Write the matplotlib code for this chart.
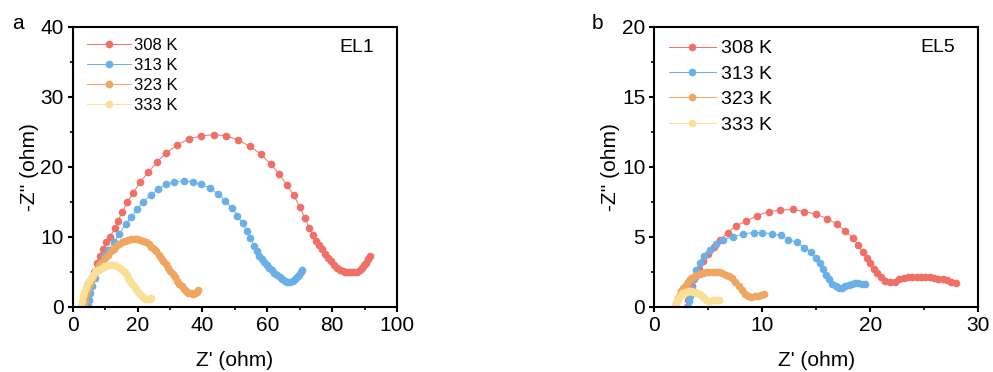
import matplotlib
matplotlib.use("Agg")
import matplotlib.pyplot as plt
from matplotlib.ticker import MultipleLocator

plt.rcParams['font.family'] = ['Liberation Sans', 'DejaVu Sans']

labels = ['308 K', '313 K', '323 K', '333 K']
colors = ['#F07068', '#6AB0E8', '#EEA660', '#FAE096']

# EL1 (panel a)
el1_308_x = [4.0, 4.4, 5.0, 5.7, 6.5, 7.4, 8.4, 9.4, 10.4, 11.5, 13.0, 14.0, 15.3, 16.8, 18.7,
             20.8, 23.3, 26.0, 28.9, 32.3, 35.9, 39.7, 43.5, 47.3, 51.1, 54.7, 58.0, 61.0, 63.6,
             66.0, 68.2, 70.0, 71.5, 72.9, 74.1, 75.1, 76.0, 76.9, 77.8, 78.7, 79.6, 80.5, 81.4,
             82.3, 83.2, 84.1, 85.0, 85.9, 86.8, 87.7, 88.5, 89.2, 89.9, 90.5, 91.1, 91.6]
el1_308_y = [0.2, 1.4, 2.6, 3.8, 5.0, 6.2, 7.3, 8.3, 9.2, 10.0, 11.2, 12.3, 13.5, 14.9, 16.3,
             17.8, 19.2, 20.7, 22.0, 23.1, 24.0, 24.4, 24.6, 24.4, 23.8, 22.9, 21.8, 20.4, 19.0,
             17.4, 15.9, 14.3, 12.7, 11.3, 10.2, 9.4, 8.8, 8.2, 7.6, 7.0, 6.5, 6.0, 5.6,
             5.3, 5.1, 5.0, 4.9, 4.9, 4.9, 5.0, 5.2, 5.5, 5.9, 6.3, 6.8, 7.2]
el1_313_x = [4.6, 4.9, 5.4, 6.0, 6.8, 7.7, 8.7, 9.8, 11.0, 12.6, 14.4, 16.3, 18.0, 19.8, 21.7,
             24.0, 26.4, 28.7, 31.3, 34.3, 37.0, 39.7, 42.4, 44.8, 47.1, 49.1, 50.8, 52.4, 53.8,
             54.8, 55.9, 56.9, 57.6, 58.3, 59.0, 59.8, 60.6, 61.4, 62.2, 63.0, 63.8, 64.6, 65.4,
             66.2, 67.0, 67.8, 68.5, 69.2, 69.8, 70.3, 70.6]
el1_313_y = [0.1, 1.0, 2.0, 3.0, 4.1, 5.2, 6.2, 7.2, 8.1, 9.2, 10.4, 11.8, 12.8, 13.9, 15.0,
             15.9, 16.8, 17.5, 17.8, 18.0, 17.8, 17.5, 16.9, 16.1, 15.1, 14.1, 13.0, 11.9, 10.8,
             9.8, 8.7, 7.9, 7.3, 6.8, 6.4, 6.0, 5.6, 5.2, 4.8, 4.5, 4.2, 3.9, 3.7,
             3.6, 3.6, 3.7, 3.9, 4.2, 4.6, 5.0, 5.3]
el1_323_x = [3.4, 3.7, 4.1, 4.6, 5.2, 5.9, 6.6, 7.4, 8.2, 9.0, 9.9, 10.8, 11.7, 12.6, 13.5,
             14.4, 15.3, 16.2, 17.1, 18.0, 18.9, 19.8, 20.7, 21.6, 22.5, 23.4, 24.2, 25.0, 25.8,
             26.6, 27.3, 28.0, 28.7, 29.4, 30.1, 30.8, 31.5, 32.2, 32.9, 33.6, 34.3, 35.0, 35.7,
             36.4, 37.1, 37.7, 38.2, 38.6]
el1_323_y = [0.2, 1.0, 1.8, 2.6, 3.3, 4.0, 4.6, 5.3, 5.9, 6.4, 6.9, 7.4, 7.9, 8.3, 8.7,
             9.0, 9.2, 9.4, 9.6, 9.7, 9.7, 9.7, 9.6, 9.4, 9.2, 8.9, 8.6, 8.2, 7.9,
             7.4, 7.0, 6.6, 6.1, 5.6, 5.1, 4.7, 4.2, 3.7, 3.3, 2.9, 2.5, 2.2, 2.0,
             1.9, 1.8, 1.9, 2.1, 2.4]
el1_333_x = [2.6, 2.9, 3.2, 3.6, 4.0, 4.5, 5.0, 5.6, 6.2, 6.9, 7.6, 8.3, 9.0, 9.7, 10.4,
             11.1, 11.8, 12.5, 13.2, 13.9, 14.6, 15.3, 16.0, 16.6, 17.2, 17.8, 18.4, 19.0, 19.6,
             20.2, 20.8, 21.4, 22.0, 22.6, 23.2, 23.8, 24.3]
el1_333_y = [0.1, 0.8, 1.5, 2.1, 2.7, 3.2, 3.7, 4.1, 4.5, 4.9, 5.2, 5.4, 5.6, 5.75, 5.85,
             5.9, 5.95, 5.95, 5.9, 5.7, 5.5, 5.3, 4.9, 4.5, 4.1, 3.7, 3.3, 2.9, 2.5,
             2.1, 1.8, 1.5, 1.3, 1.15, 1.1, 1.1, 1.2]

# EL5 (panel b)
el5_308_x = [3.0, 3.1, 3.3, 3.5, 3.8, 4.1, 4.5, 5.0, 5.5, 6.1, 6.8, 7.6, 8.5, 9.5, 10.6,
             11.6, 12.8, 13.9, 15.0, 16.0, 16.9, 17.7, 18.4, 18.9, 19.3, 19.7, 20.0, 20.3, 20.6,
             21.0, 21.4, 21.8, 22.3, 22.7, 23.1, 23.5, 23.9, 24.3, 24.7, 25.1, 25.5, 25.9, 26.3,
             26.7, 27.1, 27.5, 27.9]
el5_308_y = [0.0, 0.5, 1.0, 1.5, 2.1, 2.7, 3.3, 3.8, 4.3, 4.8, 5.3, 5.8, 6.1, 6.5, 6.8,
             6.9, 6.95, 6.8, 6.6, 6.3, 5.9, 5.4, 4.9, 4.4, 3.9, 3.5, 3.1, 2.7, 2.4,
             2.1, 1.85, 1.75, 1.8, 1.95, 2.05, 2.1, 2.15, 2.15, 2.15, 2.1, 2.1, 2.05, 2.0,
             1.95, 1.9, 1.8, 1.7]
el5_313_x = [3.1, 3.2, 3.3, 3.5, 3.7, 3.9, 4.2, 4.6, 5.2, 5.7, 6.4, 7.3, 8.2, 9.2, 10.0,
             10.9, 11.7, 12.4, 13.2, 13.9, 14.5, 15.0, 15.3, 15.6, 15.9, 16.2, 16.5, 16.8, 17.1,
             17.4, 17.7, 18.0, 18.3, 18.6, 18.9, 19.2, 19.5]
el5_313_y = [0.0, 0.4, 0.8, 1.3, 2.0, 2.6, 3.1, 3.6, 4.05, 4.5, 4.8, 5.0, 5.2, 5.3, 5.3,
             5.2, 5.1, 4.8, 4.6, 4.2, 3.9, 3.5, 3.1, 2.7, 2.3, 1.95, 1.65, 1.45, 1.35,
             1.35, 1.45, 1.55, 1.65, 1.7, 1.7, 1.65, 1.6]
el5_323_x = [1.9, 2.05, 2.2, 2.35, 2.5, 2.7, 2.9, 3.1, 3.35, 3.6, 3.9, 4.2, 4.5, 4.8, 5.1,
             5.4, 5.7, 6.0, 6.3, 6.6, 6.9, 7.2, 7.5, 7.8, 8.1, 8.4, 8.7, 9.0, 9.3,
             9.6, 9.9, 10.2]
el5_323_y = [0.0, 0.3, 0.6, 0.85, 1.1, 1.35, 1.55, 1.75, 1.95, 2.1, 2.25, 2.35, 2.42, 2.47, 2.5,
             2.5, 2.48, 2.45, 2.4, 2.3, 2.2, 2.05, 1.8, 1.5, 1.2, 0.9, 0.75, 0.72, 0.75,
             0.8, 0.85, 0.9]
el5_333_x = [1.95, 2.05, 2.15, 2.3, 2.45, 2.6, 2.8, 3.0, 3.2, 3.4, 3.6, 3.8, 4.0, 4.2, 4.4,
             4.6, 4.8, 5.0, 5.2, 5.4, 5.6, 5.8, 6.0]
el5_333_y = [0.0, 0.25, 0.5, 0.7, 0.85, 0.95, 1.02, 1.07, 1.1, 1.1, 1.08, 1.05, 1.0, 0.9, 0.75,
             0.6, 0.48, 0.42, 0.42, 0.45, 0.45, 0.45, 0.45]

el1_series = [(el1_308_x, el1_308_y), (el1_313_x, el1_313_y),
              (el1_323_x, el1_323_y), (el1_333_x, el1_333_y)]
el5_series = [(el5_308_x, el5_308_y), (el5_313_x, el5_313_y),
              (el5_323_x, el5_323_y), (el5_333_x, el5_333_y)]


def style_axes(ax, xmax, xstep, ymax, ystep):
    ax.set_xlim(0, xmax)
    ax.set_ylim(0, ymax)
    ax.xaxis.set_major_locator(MultipleLocator(xstep))
    ax.xaxis.set_minor_locator(MultipleLocator(xstep / 2))
    ax.yaxis.set_major_locator(MultipleLocator(ystep))
    ax.yaxis.set_minor_locator(MultipleLocator(ystep / 2))
    ax.tick_params(which='major', direction='out', length=3.5, width=1.5, labelsize=15, pad=3)
    ax.tick_params(which='minor', direction='out', length=2, width=1.2)
    for sp in ax.spines.values():
        sp.set_linewidth(1.5)
    ax.set_xlabel("Z' (ohm)", fontsize=15, labelpad=12)
    ax.set_ylabel("-Z'' (ohm)", fontsize=15, labelpad=1)


fig = plt.figure(figsize=(9.93, 3.72), dpi=100)
ax1 = fig.add_axes([0.0732, 0.1755, 0.3266, 0.7527])
ax2 = fig.add_axes([0.6589, 0.1755, 0.3263, 0.7527])

for (x, y), c, lab in zip(el1_series, colors, labels):
    ax1.plot(x, y, '-o', color=c, ms=4.5, lw=0.7, label=lab)
for (x, y), c, lab in zip(el5_series, colors, labels):
    ax2.plot(x, y, '-o', color=c, ms=4.5, lw=0.7, label=lab)

style_axes(ax1, 100, 20, 40, 10)
style_axes(ax2, 30, 10, 20, 5)

ax1.legend(loc='upper left', bbox_to_anchor=(0.045, 0.96), frameon=False, fontsize=12,
           handlelength=2.6, handletextpad=0.2, labelspacing=0.3, borderaxespad=0, borderpad=0)
ax2.legend(loc='upper left', bbox_to_anchor=(0.045, 0.953), frameon=False, fontsize=14,
           handlelength=2.4, handletextpad=0.3, labelspacing=0.4, borderaxespad=0, borderpad=0)

ax1.text(0.877, 0.924, 'EL1', transform=ax1.transAxes, fontsize=14, ha='center', va='center')
ax2.text(0.876, 0.924, 'EL5', transform=ax2.transAxes, fontsize=14, ha='center', va='center')

fig.text(0.018, 0.938, 'a', fontsize=15, ha='center', va='center')
fig.text(0.602, 0.938, 'b', fontsize=15, ha='center', va='center')

fig.savefig('out.png', dpi=100)
